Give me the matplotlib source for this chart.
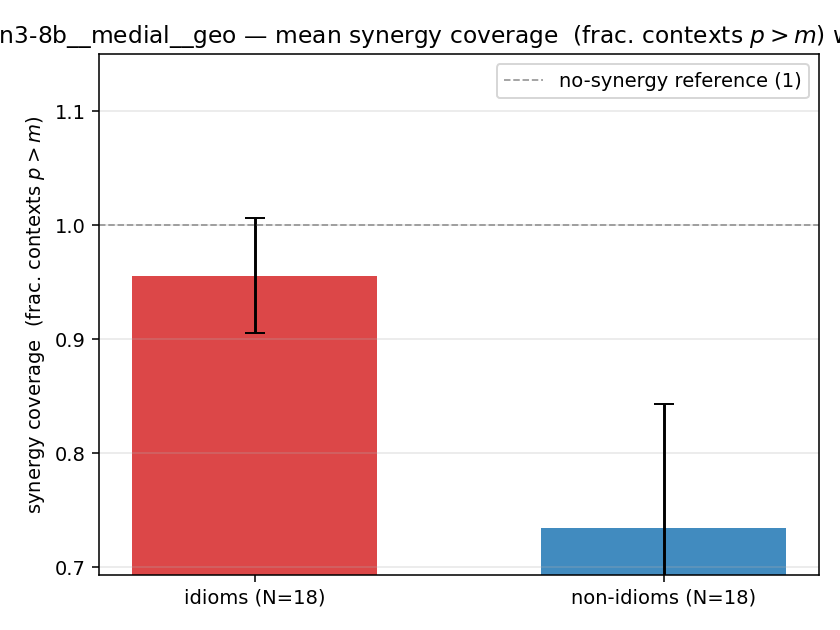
import numpy as np
import matplotlib
matplotlib.use("Agg")
import matplotlib.pyplot as plt

# datos
groups = ["idioms (N=18)", "non-idioms (N=18)"]
means = [0.9557, 0.7345]
errs = [0.0505, 0.1088]
colors = ["#d62728", "#1f77b4"]
ref_value = 1.0

fig, ax = plt.subplots(figsize=(6, 4.5), dpi=140)

x = np.arange(len(groups))
ax.bar(x, means, width=0.6, color=colors, alpha=0.85,
       yerr=errs, capsize=5, error_kw=dict(lw=1.5, ecolor="black"))
ax.axhline(ref_value, color="gray", ls="--", lw=0.9, alpha=0.8,
           label="no-synergy reference (1)")

ax.set_xticks(x)
ax.set_xticklabels(groups)
ax.set_ylim(0.693, 1.15)
ax.set_ylabel(r"synergy coverage  (frac. contexts $p > m$)")
ax.set_title(r"Qwen3-8b__medial__geo — mean synergy coverage  (frac. contexts $p > m$) with 95% CI")
ax.grid(axis="y", alpha=0.3)
ax.legend(loc="upper right")

fig.subplots_adjust(left=0.118, right=0.975, top=0.914, bottom=0.087)
fig.savefig("out.png", dpi=140)
